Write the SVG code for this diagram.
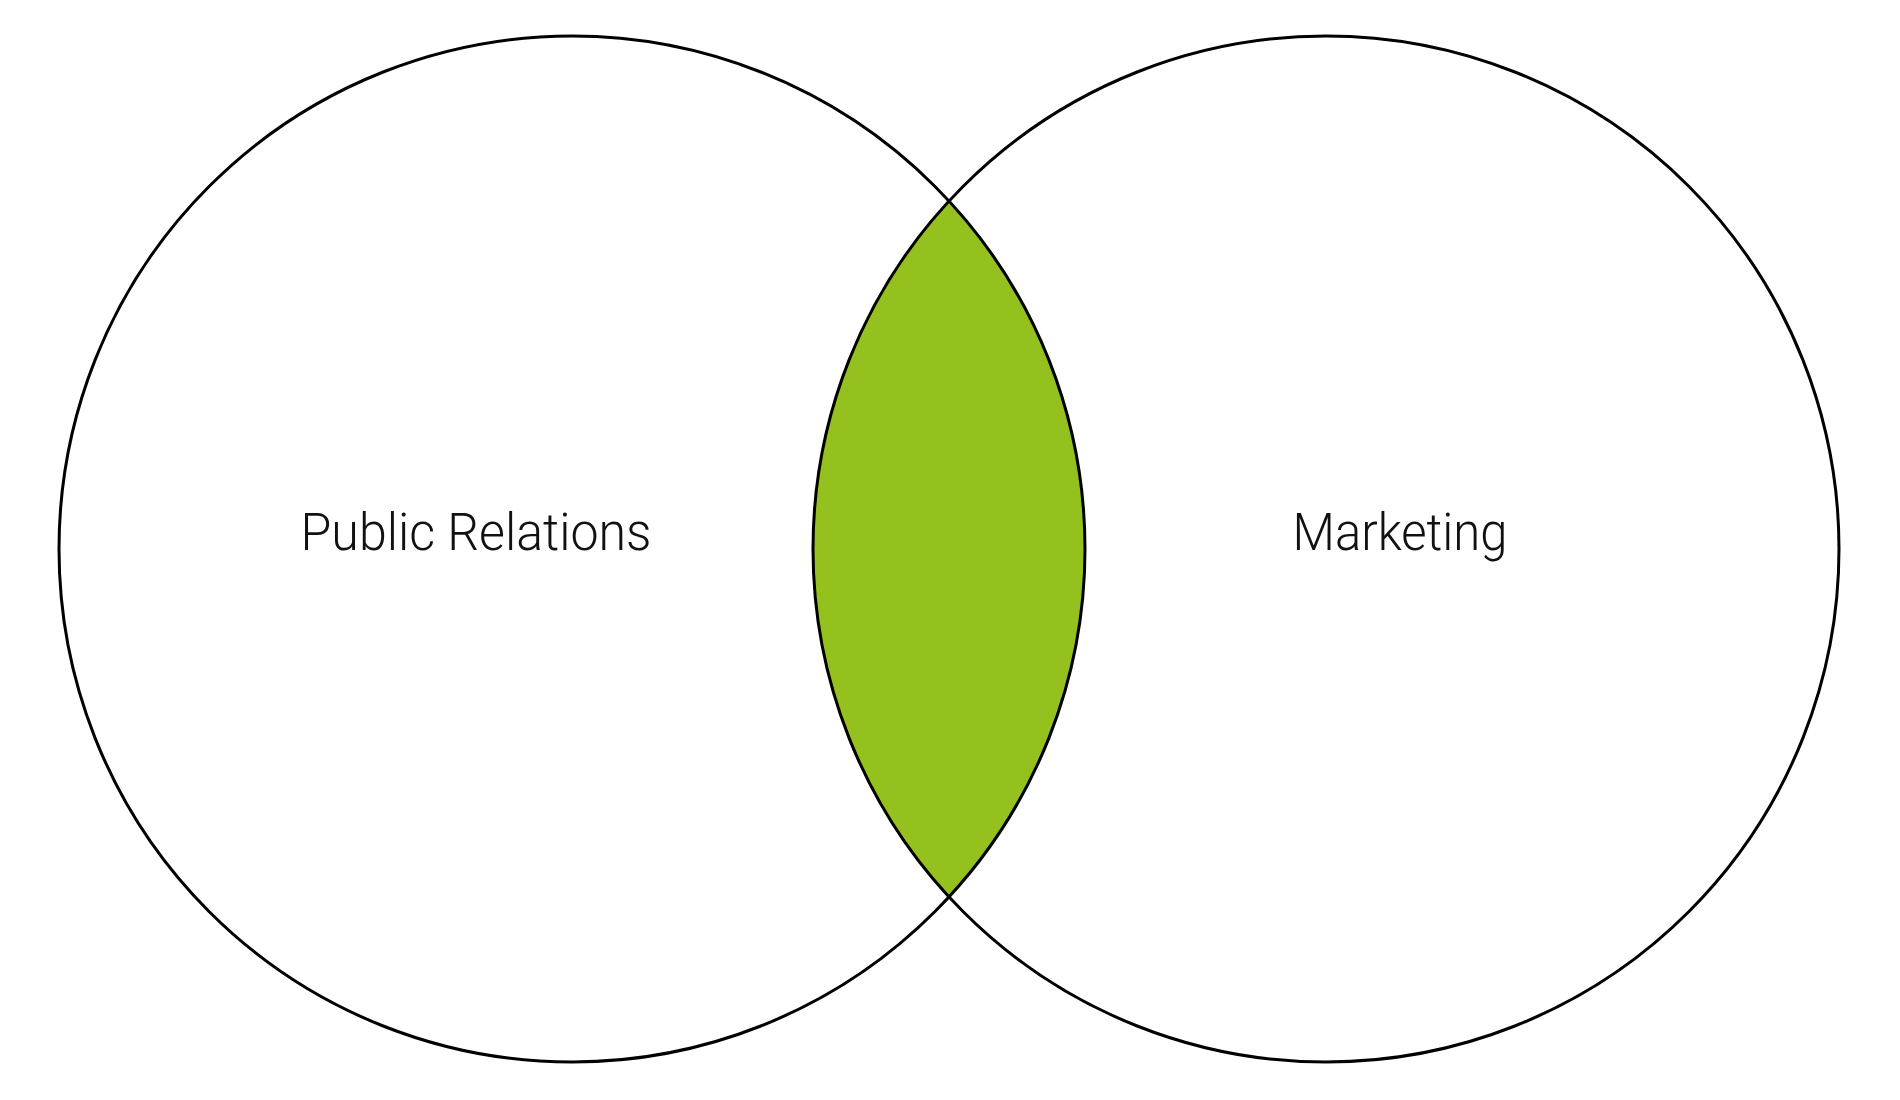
<svg xmlns="http://www.w3.org/2000/svg" width="1900" height="1100" viewBox="0 0 1900 1100">
<style>
.c{fill:none;stroke:#000;stroke-width:3}
.t{font-family:Roboto,"Liberation Sans",sans-serif;font-weight:300;font-size:51px;fill:#111;text-anchor:middle}
</style>
<rect width="1900" height="1100" fill="#fff"/>
<g id="overlap">
<path d="M949,201 A513,513 0 0,1 949,897 A513,513 0 0,1 949,201 Z" fill="#95c11f"/>
</g>
<g id="public-relations">
<circle class="c" cx="572" cy="549" r="513"/>
<text class="t" x="476" y="550" textLength="351" lengthAdjust="spacingAndGlyphs">Public Relations</text>
</g>
<g id="marketing">
<circle class="c" cx="1326" cy="549" r="513"/>
<text class="t" x="1400" y="550" textLength="215" lengthAdjust="spacingAndGlyphs">Marketing</text>
</g>
</svg>
